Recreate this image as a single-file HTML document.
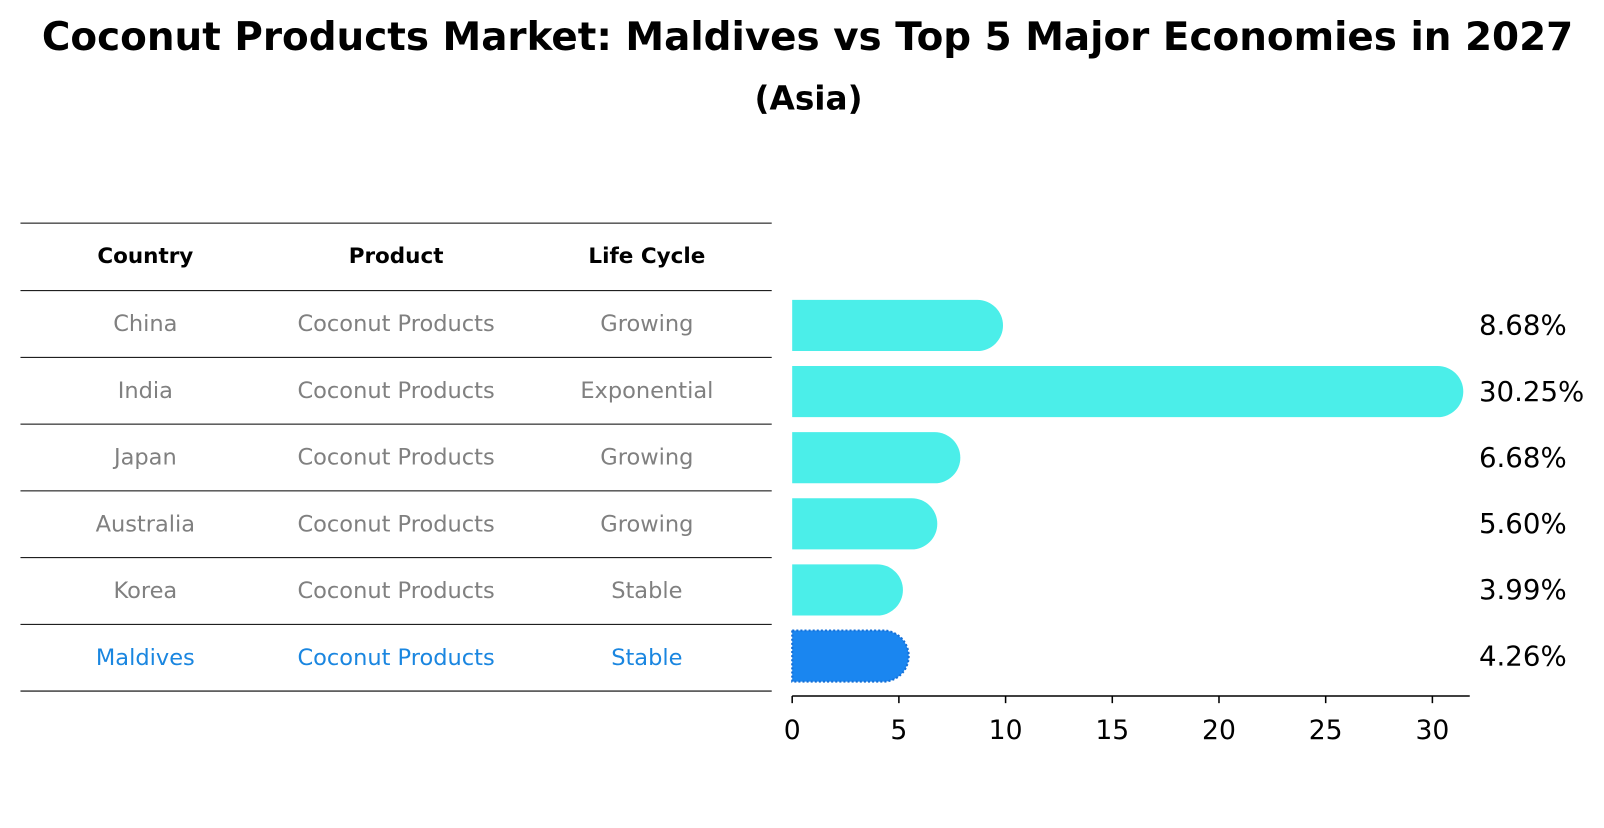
<!DOCTYPE html>
<html><head><meta charset="utf-8"><style>
body{margin:0;background:#fff;font-family:"Liberation Sans","DejaVu Sans",sans-serif;}
</style></head><body>
<svg width="1604" height="823" xmlns="http://www.w3.org/2000/svg" font-family="DejaVu Sans, Liberation Sans, sans-serif">
<g transform="scale(1.0235)">
<text x="789" y="49" text-anchor="middle" font-size="38" font-weight="bold">Coconut Products Market: Maldives vs Top 5 Major Economies in 2027</text>
<text x="790" y="107" text-anchor="middle" font-size="32" font-weight="bold">(Asia)</text>
<g id="table"></g>
<g id="bars"></g>
</g>
</svg>
<script>
const countries=["China","India","Japan","Australia","Korea","Maldives"];
const products=["Coconut Products","Coconut Products","Coconut Products","Coconut Products","Coconut Products","Coconut Products"];
const lifecycles=["Growing","Exponential","Growing","Growing","Stable","Stable"];
const values=[8.68,30.25,6.68,5.60,3.99,4.26];
const ticks=[0,5,10,15,20,25,30];
const NS="http://www.w3.org/2000/svg";
function mk(t,a,p){const e=document.createElementNS(NS,t);for(const k in a)e.setAttribute(k,a[k]);p.appendChild(e);return e;}
const tb=document.getElementById('table'),bg=document.getElementById('bars');
const rowY=i=>316+i*64.6;
const lineYs=[218,284];
for(let i=0;i<6;i++)lineYs.push(284+(i+1)*65.2);
lineYs.forEach((y,i)=>{const l=mk('line',{x1:20,x2:754,y1:y,y2:y,stroke:'#000','stroke-width':1},tb);

});
const cx=[142,387,632];
["Country","Product","Life Cycle"].forEach((h,j)=>{const t=mk('text',{x:cx[j],y:257,'text-anchor':'middle','font-size':21,'font-weight':'bold'},tb);t.textContent=h;

});
const x=v=>774+v*20.85;
for(let i=0;i<6;i++){
 const col=i==5?'#1a86e0':'#808080';
 const cy=284+65.2*i+32.6;
 [countries[i],products[i],lifecycles[i]].forEach((s,j)=>{const t=mk('text',{x:cx[j],y:cy+7,'text-anchor':'middle','font-size':22,fill:col},tb);t.textContent=s;
 
 });
 const by=rowY(i)+2, h=50, xe=x(values[i]);
 const p=mk('path',{d:`M774 ${by-h/2} H${xe} A25 25 0 0 1 ${xe} ${by+h/2} H774 Z`,fill:i==5?'#1a86f0':'#4beee9'},bg);
 if(i==5){p.setAttribute('stroke','#1570d8');p.setAttribute('stroke-dasharray','2 2');p.setAttribute('stroke-width','2');}
 
 
 const t=mk('text',{x:1445,y:by+9,'font-size':27},bg);t.textContent=values[i].toFixed(2)+'%';
 
 
}
const ax=mk('line',{x1:774,x2:1436,y1:680,y2:680,stroke:'#000','stroke-width':1.5},bg);


ticks.forEach(v=>{const l=mk('line',{x1:x(v),x2:x(v),y1:680,y2:687,stroke:'#000','stroke-width':1.5},bg);


const t=mk('text',{x:x(v),y:722,'text-anchor':'middle','font-size':26},bg);t.textContent=v;

});
</script>
</body></html>
